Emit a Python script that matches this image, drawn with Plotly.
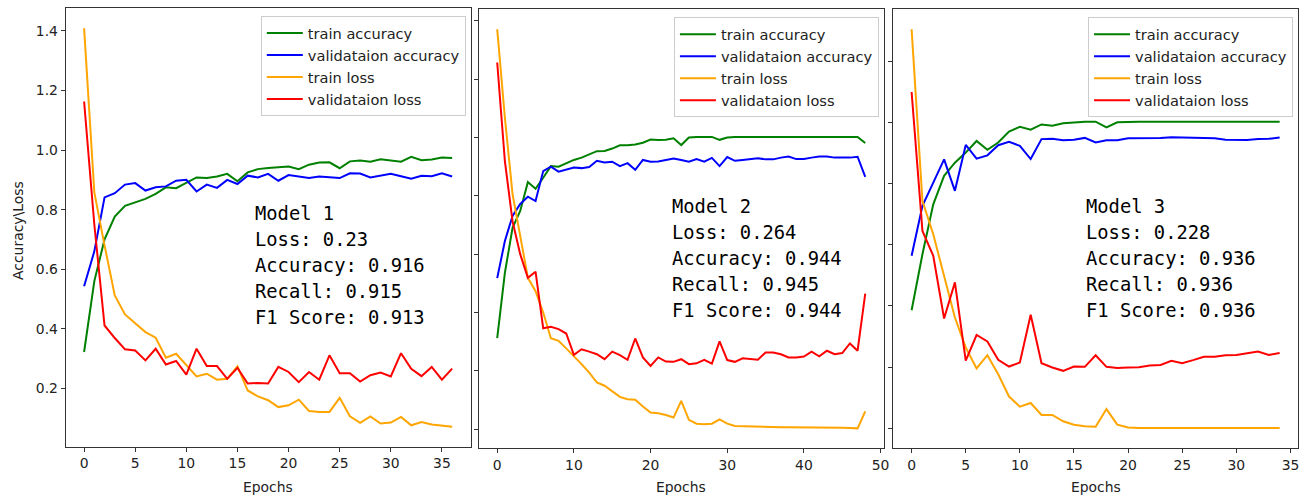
import plotly.graph_objects as go

W, H = 1316, 497

# ---------------- data ----------------
m1_train_acc = [0.322, 0.56, 0.70, 0.777, 0.813, 0.825, 0.836, 0.853, 0.875, 0.872, 0.889, 0.908, 0.906,
                0.911, 0.92, 0.895, 0.925, 0.936, 0.94, 0.943, 0.945, 0.936, 0.951, 0.958, 0.959, 0.939,
                0.962, 0.965, 0.961, 0.969, 0.965, 0.961, 0.977, 0.966, 0.968, 0.975, 0.973]
m1_val_acc = [0.543, 0.66, 0.841, 0.855, 0.884, 0.889, 0.864, 0.875, 0.878, 0.897, 0.9, 0.861, 0.884,
              0.873, 0.9, 0.886, 0.914, 0.908, 0.92, 0.897, 0.916, 0.912, 0.906, 0.911, 0.908, 0.906,
              0.922, 0.921, 0.908, 0.915, 0.92, 0.912, 0.904, 0.914, 0.912, 0.922, 0.911]
m1_train_loss = [1.409, 0.858, 0.68, 0.512, 0.448, 0.417, 0.389, 0.370, 0.303, 0.316, 0.277, 0.24, 0.249,
                 0.229, 0.232, 0.274, 0.193, 0.173, 0.16, 0.137, 0.143, 0.162, 0.124, 0.121, 0.121, 0.168,
                 0.106, 0.084, 0.106, 0.082, 0.085, 0.104, 0.076, 0.087, 0.079, 0.074, 0.071]
m1_val_loss = [1.163, 0.75, 0.411, 0.369, 0.331, 0.327, 0.294, 0.333, 0.28, 0.292, 0.246, 0.333, 0.275,
               0.275, 0.232, 0.269, 0.216, 0.218, 0.216, 0.272, 0.255, 0.221, 0.255, 0.229, 0.311, 0.251,
               0.251, 0.223, 0.244, 0.253, 0.24, 0.318, 0.266, 0.241, 0.272, 0.229, 0.266]

m2_train_acc = [0.312, 0.536, 0.69, 0.748, 0.847, 0.824, 0.862, 0.902, 0.9, 0.912, 0.923, 0.931, 0.941,
                0.953, 0.954, 0.962, 0.973, 0.973, 0.976, 0.982, 0.993, 0.991, 0.992, 0.997, 0.974, 1.0,
                1.002, 1.002, 1.002, 0.992, 1.0, 1.002, 1.002, 1.002, 1.002, 1.002, 1.002, 1.002, 1.002,
                1.002, 1.002, 1.002, 1.002, 1.002, 1.002, 1.002, 1.002, 1.002, 0.981]
m2_val_acc = [0.518, 0.645, 0.731, 0.772, 0.797, 0.782, 0.885, 0.9, 0.883, 0.891, 0.897, 0.895, 0.899,
              0.92, 0.914, 0.917, 0.902, 0.912, 0.889, 0.923, 0.917, 0.918, 0.922, 0.928, 0.923, 0.917,
              0.926, 0.917, 0.93, 0.902, 0.933, 0.92, 0.923, 0.926, 0.929, 0.925, 0.925, 0.931, 0.935,
              0.926, 0.926, 0.931, 0.935, 0.935, 0.931, 0.931, 0.931, 0.934, 0.865]
m2_train_loss = [1.371, 1.068, 0.806, 0.669, 0.519, 0.473, 0.4, 0.312, 0.303, 0.277, 0.251, 0.223, 0.194,
                 0.16, 0.149, 0.129, 0.111, 0.103, 0.101, 0.078, 0.057, 0.055, 0.049, 0.04, 0.097, 0.032,
                 0.019, 0.017, 0.019, 0.034, 0.019, 0.011, 0.01, 0.01, 0.009, 0.008, 0.008, 0.007, 0.007,
                 0.007, 0.007, 0.006, 0.006, 0.006, 0.005, 0.005, 0.004, 0.003, 0.061]
m2_val_loss = [1.257, 0.919, 0.713, 0.6, 0.519, 0.54, 0.346, 0.351, 0.343, 0.328, 0.255, 0.274, 0.266,
               0.257, 0.24, 0.266, 0.254, 0.238, 0.311, 0.246, 0.217, 0.246, 0.232, 0.231, 0.24, 0.223,
               0.226, 0.238, 0.225, 0.301, 0.237, 0.231, 0.243, 0.24, 0.238, 0.263, 0.263, 0.257, 0.246,
               0.246, 0.249, 0.266, 0.25, 0.269, 0.257, 0.261, 0.294, 0.269, 0.465]

m3_train_acc = [0.386, 0.569, 0.732, 0.825, 0.868, 0.901, 0.939, 0.91, 0.934, 0.97, 0.985, 0.976, 0.993,
                0.989, 0.997, 1.0, 1.002, 1.002, 0.983, 1.0, 1.002, 1.002, 1.002, 1.002, 1.002, 1.002,
                1.002, 1.002, 1.002, 1.002, 1.002, 1.002, 1.002, 1.002, 1.002]
m3_val_acc = [0.564, 0.727, 0.803, 0.879, 0.776, 0.926, 0.881, 0.892, 0.925, 0.936, 0.923, 0.88, 0.945,
              0.946, 0.941, 0.943, 0.949, 0.934, 0.941, 0.941, 0.948, 0.948, 0.948, 0.949, 0.951, 0.95,
              0.95, 0.947, 0.948, 0.943, 0.943, 0.942, 0.945, 0.946, 0.95]
m3_train_loss = [1.304, 0.743, 0.634, 0.493, 0.362, 0.264, 0.196, 0.239, 0.177, 0.104, 0.071, 0.083, 0.044,
                 0.044, 0.023, 0.012, 0.007, 0.005, 0.063, 0.012, 0.003, 0.001, 0.001, 0.001, 0.001, 0.001,
                 0.001, 0.001, 0.001, 0.001, 0.001, 0.001, 0.001, 0.001, 0.001]
m3_val_loss = [1.099, 0.645, 0.564, 0.359, 0.477, 0.221, 0.305, 0.284, 0.224, 0.202, 0.215, 0.371, 0.213,
               0.199, 0.188, 0.202, 0.201, 0.239, 0.201, 0.197, 0.199, 0.2, 0.205, 0.207, 0.221, 0.213,
               0.223, 0.234, 0.234, 0.239, 0.24, 0.246, 0.251, 0.24, 0.246]

series_names = ["train accuracy", "validataion accuracy", "train loss", "validataion loss"]
series_colors = ["green", "blue", "orange", "red"]

models = [
    dict(name="Model 1", loss="0.23", acc="0.916", rec="0.915", f1="0.913",
         series=[m1_train_acc, m1_val_acc, m1_train_loss, m1_val_loss]),
    dict(name="Model 2", loss="0.264", acc="0.944", rec="0.945", f1="0.944",
         series=[m2_train_acc, m2_val_acc, m2_train_loss, m2_val_loss]),
    dict(name="Model 3", loss="0.228", acc="0.936", rec="0.936", f1="0.936",
         series=[m3_train_acc, m3_val_acc, m3_train_loss, m3_val_loss]),
]

# ---------------- layout geometry (pixels) ----------------
panels = [
    dict(x0=66, x1=472.7, y0=8.3, y1=446.7, xticks=list(range(0, 36, 5)),
         yticks=[0.2, 0.4, 0.6, 0.8, 1.0, 1.2, 1.4], ylabels=True,
         leg=(262, 16), txt=(254, 213)),
    dict(x0=481, x1=887.7, y0=9.3, y1=448.3, xticks=list(range(0, 51, 10)),
         yticks=[0.0, 0.2, 0.4, 0.6, 0.8, 1.0, 1.2, 1.4], ylabels=False,
         leg=(677, 17.3), txt=(673, 206)),
    dict(x0=897.3, x1=1304, y0=9.3, y1=448, xticks=list(range(0, 36, 5)),
         yticks=[0.0, 0.2, 0.4, 0.6, 0.8, 1.0, 1.2], ylabels=False,
         leg=(1093, 17.3), txt=(1089, 206)),
]


def px(x):
    return x / W


def py(y):
    return 1 - y / H


fig = go.Figure()
AX = "#333333"
TXT = "#222222"
tick_font = dict(family="DejaVu Sans", size=13.9, color=TXT)

for i, (m, p) in enumerate(zip(models, panels)):
    k = "" if i == 0 else str(i + 1)
    n = len(m["series"][0])
    epochs = list(range(n))
    allv = [v for s in m["series"] for v in s]
    lo, hi = min(allv), max(allv)
    pad = 0.05 * (hi - lo)
    xpad = 0.05 * (n - 1)
    legname = "legend" if i == 0 else f"legend{i + 1}"
    for name, color, vals in zip(series_names, series_colors, m["series"]):
        fig.add_trace(go.Scatter(x=epochs, y=vals, mode="lines", name=name,
                                 line=dict(color=color, width=2),
                                 xaxis="x" + k, yaxis="y" + k, legend=legname))
    fig.update_layout(**{
        "xaxis" + k: dict(domain=[px(p["x0"]), px(p["x1"])], range=[-xpad, n - 1 + xpad],
                          anchor="y" + k, tickvals=p["xticks"], ticks="outside", ticklen=4,
                          tickwidth=1, tickcolor=AX, showline=True, linecolor=AX, linewidth=1,
                          mirror=True, showgrid=False, zeroline=False, tickfont=tick_font),
        "yaxis" + k: dict(domain=[py(p["y1"]), py(p["y0"])], range=[lo - pad, hi + pad],
                          anchor="x" + k, tickvals=p["yticks"], ticks="outside", ticklen=4,
                          tickwidth=1, tickcolor=AX, showline=True, linecolor=AX, linewidth=1,
                          mirror=True, showgrid=False, zeroline=False, tickfont=tick_font,
                          showticklabels=p["ylabels"], tickformat=".1f"),
        legname: dict(x=px(p["leg"][0]), y=py(p["leg"][1]), xanchor="left", yanchor="top",
                      bgcolor="rgba(255,255,255,0.8)", bordercolor="#cccccc", borderwidth=1,
                      itemwidth=36,
                      font=dict(family="DejaVu Sans", size=14.6, color=TXT)),
    })
    # x-axis title
    fig.add_annotation(x=px((p["x0"] + p["x1"]) / 2), y=py(487), xref="paper", yref="paper",
                       text="Epochs", showarrow=False, xanchor="center", yanchor="middle",
                       font=dict(family="DejaVu Sans", size=13.9, color=TXT))
    # metrics text block
    lines = [m["name"], "Loss: " + m["loss"], "Accuracy: " + m["acc"],
             "Recall: " + m["rec"], "F1 Score: " + m["f1"]]
    for j, line in enumerate(lines):
        fig.add_annotation(x=px(p["txt"][0]), y=py(p["txt"][1] + 26.2 * j), xref="paper", yref="paper",
                           text=line, showarrow=False, xanchor="left", yanchor="middle",
                           font=dict(family="DejaVu Sans Mono", size=18.8, color="black"))

fig.add_annotation(x=px(18), y=py(230), xref="paper", yref="paper", text="Accuracy\\Loss",
                   textangle=-90, showarrow=False, xanchor="center", yanchor="middle",
                   font=dict(family="DejaVu Sans", size=13.9, color=TXT))

fig.update_layout(width=W, height=H, autosize=False, margin=dict(l=0, r=0, t=0, b=0),
                  paper_bgcolor="white", plot_bgcolor="white", showlegend=True)

fig.write_html("out.html")
